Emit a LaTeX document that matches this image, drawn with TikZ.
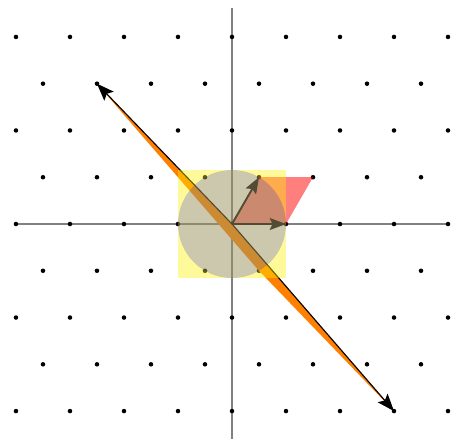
\documentclass[tikz,border=0pt]{standalone}
\usepackage{tikz}
\usetikzlibrary{arrows.meta}
\definecolor{LatOrange}{HTML}{FF8000}

\begin{document}
\begin{tikzpicture}[
  axisline/.style={draw=gray, line width=0.7pt},
  latdot/.style={fill=black},
  longvec/.style={draw=black, line width=0.6pt, -{Stealth[length=3.2mm, width=2.4mm, inset=0.6mm]}},
  basevec/.style={draw=black, line width=1pt, -{Stealth[length=3mm, width=2.2mm, inset=0.5mm]}},
]
  \useasboundingbox (-4.296,-3.963) rectangle (4.111,4.148);
  \coordinate (O) at (0,0);
  \coordinate (e1) at (1,0);
  \coordinate (e2) at (0.5,{sqrt(3)/2});
  \coordinate (e12) at (1.5,{sqrt(3)/2});
  \coordinate (v1) at (-2.5,{3*sqrt(3)/2});
  \coordinate (v2) at (3,{-2*sqrt(3)});
  \coordinate (v12) at (0.5,{-sqrt(3)/2});

  % axes
  \draw[axisline] (-4,0) -- (4,0);
  \draw[axisline] (0,-4) -- (0,4);

  % lattice points
  \foreach \j in {-4,-2,0,2,4}
    \foreach \x in {-4,...,4}
      \fill[latdot] (\x,{\j*sqrt(3)/2}) circle (0.042);
  \foreach \j in {-3,-1,1,3}
    \foreach \x in {-3.5,-2.5,...,3.5}
      \fill[latdot] (\x,{\j*sqrt(3)/2}) circle (0.042);

  % skewed basis
  \fill[LatOrange] (O) -- (v1) -- (v12) -- (v2) -- cycle;
  \draw[longvec] (O) -- (v1);
  \draw[longvec] (O) -- (v2);

  % reduced basis
  \fill[red, opacity=0.5] (O) -- (e1) -- (e12) -- (e2) -- cycle;
  \draw[basevec] (O) -- (e1);
  \draw[basevec] (O) -- (e2);

  \fill[yellow, opacity=0.4] (-1,-1) rectangle (1,1);
  \fill[blue, opacity=0.2] (O) circle (1);
\end{tikzpicture}
\end{document}
